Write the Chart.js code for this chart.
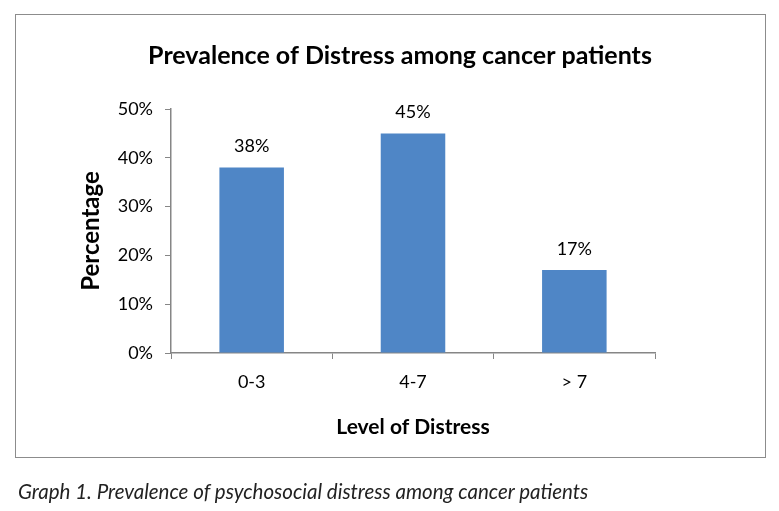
<!DOCTYPE html>
<html>
<head>
<meta charset="utf-8">
<script src="https://cdn.jsdelivr.net/npm/chart.js@4"></script>
<style>
  html, body { margin: 0; padding: 0; background: #fff; }
  #wrap { position: absolute; left: 0; top: 0; width: 779px; height: 511px; }
  #frame { position: absolute; left: 15px; top: 14px; width: 749px; height: 442px;
           border: 1px solid #8c8c8c; pointer-events: none; }
  #caption { position: absolute; left: 18px; top: 479px; font-family: Lato, "Open Sans", sans-serif;
             font-style: italic; font-size: 20.5px; color: #222; white-space: nowrap; }
</style>
</head>
<body>
<div id="wrap"><canvas id="myChart"></canvas></div>
<div id="frame"></div>
<div id="caption">Graph 1. Prevalence of psychosocial distress among cancer patients</div>
<script>
const levels = ['0-3', '4-7', '> 7'];
const percentValues = [38, 45, 17];
const yTicks = [0, 10, 20, 30, 40, 50];

const FONT = 'Lato, "Open Sans", sans-serif';
const AXIS = '#868686';

Chart.defaults.font.family = FONT;
Chart.defaults.color = '#000';

// value labels above each bar
const barLabels = {
	id: 'barLabels',
	afterDatasetsDraw(chart) {
		const c = chart.ctx;
		const meta = chart.getDatasetMeta(0);
		c.save();
		c.font = '18px ' + FONT;
		c.fillStyle = '#000';
		c.textAlign = 'center';
		c.textBaseline = 'middle';
		meta.data.forEach((bar, i) => {
			c.fillText(percentValues[i] + '%', bar.x, bar.y - 21);
		});
		c.restore();
	}
};

new Chart(document.getElementById('myChart'), {
	type: 'bar',
	data: {
		labels: levels,
		datasets: [{
			data: percentValues,
			backgroundColor: '#4F86C6',
			barPercentage: 0.4,
			categoryPercentage: 1
		}]
	},
	options: {
		responsive: true,
		maintainAspectRatio: false,
		animation: false,
		layout: { padding: { left: 21, right: 0, top: 0, bottom: 0 } },
		plugins: {
			legend: { display: false },
			tooltip: { enabled: false },
			title: {
				display: true,
				text: 'Prevalence of Distress among cancer patients',
				font: { size: 25, weight: 'bold' },
				color: '#000',
				padding: { top: 41, bottom: 38 }
			}
		},
		scales: {
			x: {
				grid: { drawOnChartArea: false, color: AXIS, tickLength: 6 },
				border: { color: AXIS, width: 1.5 },
				ticks: { font: { size: 18 }, color: '#000', padding: 12 },
				title: {
					display: true,
					text: 'Level of Distress',
					font: { size: 21, weight: 'bold' },
					color: '#000',
					padding: { top: 0, bottom: 71 }
				},
				afterFit: s => { s.height = 511 - 353; }
			},
			y: {
				min: 0,
				max: 50,
				grid: { drawOnChartArea: false, color: AXIS, tickLength: 6 },
				border: { color: AXIS, width: 1.5 },
				ticks: {
					stepSize: 10,
					font: { size: 18 },
					color: '#000',
					padding: 12,
					callback: v => yTicks.includes(v) ? v + '%' : ''
				},
				title: {
					display: true,
					text: 'Percentage',
					font: { size: 24, weight: 'bold' },
					color: '#000',
					padding: { top: 56, bottom: 0 }
				},
				afterFit: s => { s.width = 171 - 21; }
			},
			yRight: {
				position: 'right',
				grid: { display: false },
				border: { display: false },
				ticks: { display: false },
				afterFit: s => { s.width = 779 - 655; }
			}
		}
	},
	plugins: [barLabels]
});
</script>
</body>
</html>
